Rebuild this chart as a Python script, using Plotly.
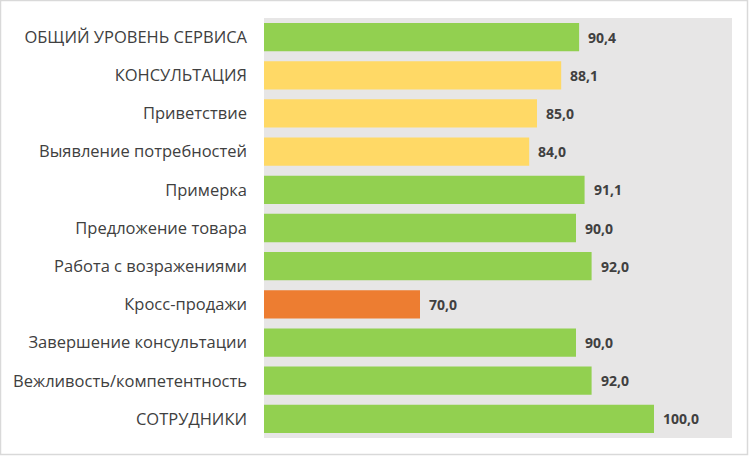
import plotly.graph_objects as go

categories = ["ОБЩИЙ УРОВЕНЬ СЕРВИСА", "КОНСУЛЬТАЦИЯ", "Приветствие", "Выявление потребностей",
              "Примерка", "Предложение товара", "Работа с возражениями", "Кросс-продажи",
              "Завершение консультации", "Вежливость/компетентность", "СОТРУДНИКИ"]
values = [90.4, 88.1, 85.0, 84.0, 91.1, 90.0, 92.0, 70.0, 90.0, 92.0, 100.0]
colors = ["#92D050", "#FFD966", "#FFD966", "#FFD966", "#92D050", "#92D050", "#92D050",
          "#ED7D31", "#92D050", "#92D050", "#92D050"]
x_min, x_max = 50, 110

W, H = 750, 457
L, R, T, B = 264, 18, 18, 19
pw, ph = W - L - R, H - T - B

fig = go.Figure()
fig.add_trace(go.Bar(
    y=categories, x=[v - x_min for v in values], base=x_min, orientation="h",
    marker=dict(color=colors, line=dict(width=0)),
    hoverinfo="skip",
))
for c, v in zip(categories, values):
    fig.add_annotation(x=v, y=c, text=f"<b>{v:.1f}</b>".replace(".", ","),
                       showarrow=False, xanchor="left", xshift=7,
                       font=dict(family="Open Sans, sans-serif", size=14, color="#404040"))

fig.add_shape(type="rect", xref="paper", yref="paper",
              x0=(0.5 - L) / pw, x1=(W - 2.5 - L) / pw,
              y0=-(H - 2.5 - T - ph) / ph, y1=1 + (T - 0.5) / ph,
              line=dict(color="#D9D9D9", width=1.5), layer="below")

fig.update_layout(
    width=W, height=H,
    margin=dict(l=L, r=R, t=T, b=B),
    paper_bgcolor="white", plot_bgcolor="#E7E6E6",
    bargap=0.26, showlegend=False,
    xaxis=dict(range=[x_min, x_max], visible=False, showgrid=False, zeroline=False, fixedrange=True),
    yaxis=dict(autorange="reversed", showgrid=False, zeroline=False, fixedrange=True,
               ticklabelstandoff=16,
               tickfont=dict(family="Open Sans, sans-serif", size=16.5, color="#404040")),
)
fig.write_html("out.html", config={"displayModeBar": False},
               post_script="document.body.style.margin='0';")
